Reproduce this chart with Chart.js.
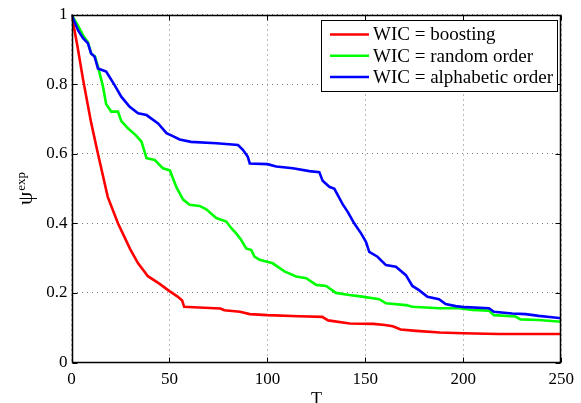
<!DOCTYPE html>
<html>
<head>
<meta charset="utf-8">
<script src="https://cdn.jsdelivr.net/npm/chart.js@4.4.1/dist/chart.umd.min.js"></script>
<style>
  html, body { margin: 0; padding: 0; background: #fff; }
  canvas { display: block; }
</style>
</head>
<body>
<canvas id="chart" width="581" height="403"></canvas>
<script>
// values
const boostT   = [0, 3, 6, 10, 13.5, 18.5, 23.7, 27, 30, 34, 39, 45, 50, 54, 56.5, 57.5, 65, 76, 78, 86, 91, 100, 116, 128, 131, 142, 154, 160, 164, 168, 176, 188, 200, 218, 250];
const boostPsi = [1.0, 0.91, 0.81, 0.69, 0.60, 0.476, 0.40, 0.361, 0.325, 0.285, 0.248, 0.226, 0.205, 0.19, 0.178, 0.160, 0.158, 0.155, 0.150, 0.146, 0.139, 0.136, 0.133, 0.131, 0.121, 0.112, 0.111, 0.108, 0.104, 0.095, 0.091, 0.086, 0.084, 0.082, 0.082];

const randomT   = [0, 3.3, 5.9, 8.4, 10, 12, 13.5, 16, 17.7, 20.3, 23.7, 25.4, 28.8, 32.5, 35.7, 38.3, 42.5, 46.7, 50.2, 53.6, 57, 60.3, 65.4, 68.8, 73.9, 79, 81.6, 84.5, 86.6, 89.2, 91.8, 93.4, 96, 102.7, 108.7, 114.7, 119.8, 124.9, 130, 135, 141.8, 147.5, 157.1, 160.5, 170.7, 174, 187.6, 197.8, 204.6, 213.1, 215.6, 226.7, 229.2, 238.5, 250];
const randomPsi = [1.0, 0.968, 0.940, 0.920, 0.888, 0.879, 0.850, 0.795, 0.742, 0.721, 0.721, 0.694, 0.673, 0.655, 0.635, 0.587, 0.582, 0.558, 0.552, 0.503, 0.468, 0.453, 0.450, 0.440, 0.415, 0.405, 0.386, 0.368, 0.352, 0.328, 0.323, 0.304, 0.295, 0.285, 0.262, 0.247, 0.242, 0.223, 0.220, 0.200, 0.194, 0.190, 0.182, 0.170, 0.165, 0.160, 0.156, 0.156, 0.151, 0.149, 0.136, 0.132, 0.124, 0.122, 0.117];

const alphaT   = [0, 3.3, 5.9, 8.4, 10, 11.8, 13.5, 17.7, 22, 25.4, 29.7, 34, 38.3, 44.2, 48.5, 52, 55.2, 61, 74, 85, 87.5, 90, 91, 100, 104.5, 113, 121.4, 126.5, 128.2, 131.6, 134.2, 138.4, 141, 144.3, 147.8, 150.3, 152, 156.2, 160.5, 165.6, 170.7, 174, 177.4, 181.7, 187.6, 191, 196.1, 201.2, 213.1, 215.6, 224.9, 231.8, 238.5, 245.3, 250];
const alphaPsi = [1.0, 0.955, 0.932, 0.917, 0.888, 0.879, 0.845, 0.836, 0.797, 0.764, 0.735, 0.716, 0.711, 0.687, 0.659, 0.650, 0.641, 0.634, 0.630, 0.625, 0.611, 0.591, 0.572, 0.570, 0.563, 0.558, 0.550, 0.547, 0.522, 0.505, 0.499, 0.455, 0.433, 0.400, 0.371, 0.347, 0.318, 0.304, 0.280, 0.275, 0.251, 0.220, 0.208, 0.189, 0.182, 0.168, 0.162, 0.159, 0.156, 0.146, 0.141, 0.139, 0.134, 0.130, 0.127];

const seriesLabels = ['WIC = boosting', 'WIC = random order', 'WIC = alphabetic order'];
const seriesColors = ['#ff0000', '#00ff00', '#0000ff'];
const xTicks = [0, 50, 100, 150, 200, 250];
const yTicks = [0, 0.2, 0.4, 0.6, 0.8, 1];

const serif = "'Liberation Serif', 'DejaVu Serif', serif";

function pts(xs, ys) { return xs.map((x, i) => ({ x: x, y: ys[i] })); }

// frame, inward ticks, legend box and axis titles (MATLAB look)
const figureDecor = {
  id: 'figureDecor',
  afterDraw(chart) {
    const ctx = chart.ctx;
    const a = chart.chartArea;
    const sx = chart.scales.x, sy = chart.scales.y;
    const L = Math.round(a.left) + 0.5, R = Math.round(a.right) - 0.5;
    const T = Math.round(a.top) + 0.5, B = Math.round(a.bottom) - 0.5;
    ctx.save();
    ctx.strokeStyle = '#000';
    ctx.lineWidth = 1;
    ctx.beginPath();
    xTicks.forEach(v => {
      const px = Math.round(sx.getPixelForValue(v)) + 0.5;
      ctx.moveTo(px, B); ctx.lineTo(px, B - 5);
      ctx.moveTo(px, T); ctx.lineTo(px, T + 5);
    });
    yTicks.forEach(v => {
      const py = Math.round(sy.getPixelForValue(v)) + 0.5;
      ctx.moveTo(L, py); ctx.lineTo(L + 5, py);
      ctx.moveTo(R, py); ctx.lineTo(R - 5, py);
    });
    ctx.stroke();
    ctx.lineWidth = 1.5;
    ctx.strokeRect(L, T, R - L, B - T);

    // legend
    const lx = 321.5, ly = 20.5, lw = 236, lh = 71;
    ctx.fillStyle = '#fff';
    ctx.fillRect(lx, ly, lw, lh);
    ctx.lineWidth = 1;
    ctx.strokeStyle = '#000';
    ctx.strokeRect(lx, ly, lw, lh);
    ctx.font = '19px ' + serif;
    ctx.textBaseline = 'middle';
    ctx.textAlign = 'left';
    seriesLabels.forEach((lab, i) => {
      const yy = 34.5 + i * 21.3;
      ctx.strokeStyle = seriesColors[i];
      ctx.lineWidth = 2.5;
      ctx.beginPath();
      ctx.moveTo(330, yy); ctx.lineTo(369, yy);
      ctx.stroke();
      ctx.fillStyle = '#000';
      ctx.fillText(lab, 373, yy + 1);
    });

    // x title
    ctx.fillStyle = '#000';
    ctx.font = '18px ' + serif;
    ctx.textAlign = 'center';
    ctx.textBaseline = 'alphabetic';
    ctx.fillText('T', (a.left + a.right) / 2, 405);

    // y title: psi with superscript exp
    ctx.translate(32, 189);
    ctx.rotate(-Math.PI / 2);
    ctx.textAlign = 'left';
    ctx.font = '21px ' + serif;
    const wPsi = ctx.measureText('ψ').width;
    ctx.font = '13px ' + serif;
    const wExp = ctx.measureText('exp').width;
    const x0 = -(wPsi + wExp) / 2;
    ctx.font = '21px ' + serif;
    ctx.fillText('ψ', x0, 0);
    ctx.font = '13px ' + serif;
    ctx.fillText('exp', x0 + wPsi + 1, -7);
    ctx.restore();
  }
};

const ctx = document.getElementById('chart').getContext('2d');
const chart = new Chart(ctx, {
  type: 'line',
  data: {
    datasets: [
      { label: seriesLabels[0], data: pts(boostT, boostPsi), borderColor: seriesColors[0], order: 2 },
      { label: seriesLabels[1], data: pts(randomT, randomPsi), borderColor: seriesColors[1], order: 1 },
      { label: seriesLabels[2], data: pts(alphaT, alphaPsi), borderColor: seriesColors[2], order: 0 }
    ]
  },
  options: {
    responsive: false,
    animation: false,
    events: [],
    elements: {
      line: { borderWidth: 2.6, tension: 0, fill: false },
      point: { radius: 0 }
    },
    layout: { padding: { left: 0, right: 18.5, top: 14.5, bottom: 0 } },
    plugins: { legend: { display: false }, tooltip: { enabled: false } },
    scales: {
      x: {
        type: 'linear', min: 0, max: 250,
        afterBuildTicks: s => { s.ticks = xTicks.map(v => ({ value: v })); },
        afterFit: s => { s.height = 40.5; },
        ticks: { color: '#000', font: { family: serif, size: 17 }, padding: 7, maxRotation: 0, autoSkip: false },
        grid: { color: '#777', lineWidth: 1, drawTicks: false },
        border: { display: false, dash: [1, 4] }
      },
      y: {
        type: 'linear', min: 0, max: 1,
        afterBuildTicks: s => { s.ticks = yTicks.map(v => ({ value: v })); },
        afterFit: s => { s.width = 71.5; },
        ticks: { color: '#000', font: { family: serif, size: 17 }, padding: 4, callback: v => String(v) },
        grid: { color: '#777', lineWidth: 1, drawTicks: false },
        border: { display: false, dash: [1, 4] }
      }
    }
  },
  plugins: [figureDecor]
});
</script>
</body>
</html>
